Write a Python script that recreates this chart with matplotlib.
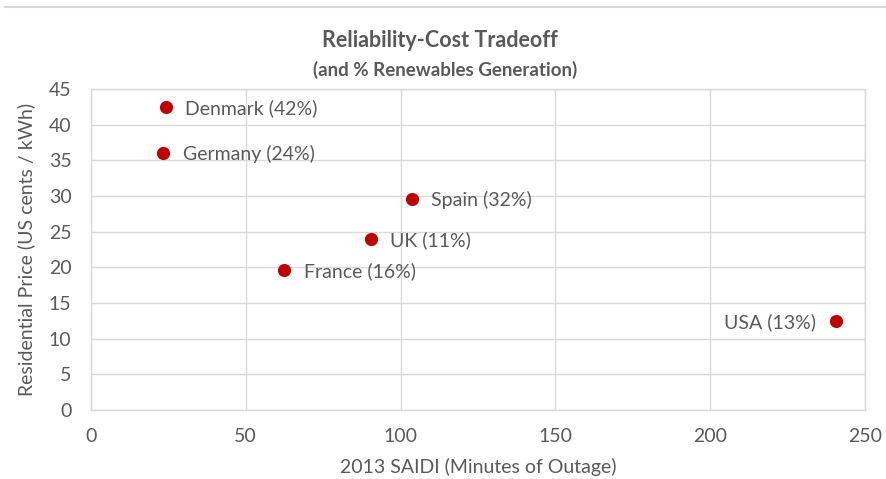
import matplotlib.pyplot as plt
from matplotlib.lines import Line2D

# data
countries = ["Denmark (42%)", "Germany (24%)", "Spain (32%)", "UK (11%)", "France (16%)", "USA (13%)"]
saidi = [24.2, 23.3, 103.7, 90.4, 62.5, 240.6]
price = [42.5, 36.1, 29.6, 24.0, 19.6, 12.5]
label_side = ["right", "right", "right", "right", "right", "left"]

x_ticks = [0, 50, 100, 150, 200, 250]
y_ticks = [0, 5, 10, 15, 20, 25, 30, 35, 40, 45]

TEXT = "#595959"
GRID = "#d9d9d9"
RED = "#c00000"

plt.rcParams['font.family'] = ['Lato', 'DejaVu Sans']

fig = plt.figure(figsize=(8.87, 4.79), dpi=100)
ax = fig.add_axes([0.1026, 0.144, 0.8724, 0.670])

ax.scatter(saidi, price, s=90, color=RED, zorder=3, linewidths=0)
for name, x, y, side in zip(countries, saidi, price, label_side):
    off = 14 if side == "right" else -14
    ax.annotate(name, (x, y), xytext=(off, -1), textcoords="offset points",
                ha="left" if side == "right" else "right", va="center",
                fontsize=14, color=TEXT)

ax.set_xlim(0, 250)
ax.set_ylim(0, 45)
ax.set_xticks(x_ticks)
ax.set_yticks(y_ticks)
ax.grid(True, color=GRID, linewidth=1)
ax.set_axisbelow(True)
for sp in ax.spines.values():
    sp.set_color(GRID)
    sp.set_linewidth(1)
ax.tick_params(length=0, labelsize=14, labelcolor=TEXT)
ax.tick_params(axis="x", pad=13)
ax.tick_params(axis="y", pad=14)

ax.set_xlabel("2013 SAIDI (Minutes of Outage)", fontsize=14, color=TEXT, labelpad=9)
ax.set_ylabel("Residential Price (US cents / kWh)", fontsize=14, color=TEXT, labelpad=10)

fig.text(0.496, 0.916, "Reliability-Cost Tradeoff", ha="center", va="center",
         fontsize=15.5, fontweight="bold", color=TEXT)
fig.text(0.502, 0.854, "(and % Renewables Generation)", ha="center", va="center",
         fontsize=13.5, fontweight="bold", color=TEXT)

# thin frame line at the top of the picture
fig.add_artist(Line2D([0.006, 1.0], [0.985, 0.985], color=GRID, linewidth=1.5,
                      transform=fig.transFigure))

fig.savefig("out.png", dpi=100)
